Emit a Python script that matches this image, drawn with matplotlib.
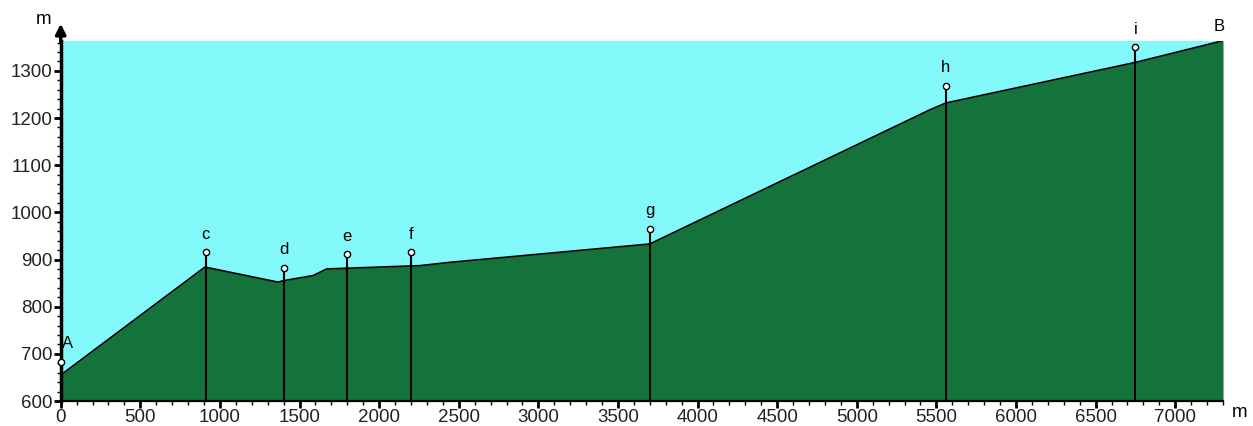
import matplotlib
matplotlib.use("Agg")
import matplotlib.pyplot as plt
from matplotlib.ticker import MultipleLocator

plt.rcParams["font.family"] = ["Liberation Sans", "DejaVu Sans"]

# ground profile (distance m, altitude m)
profile_x = [0, 906, 1366, 1397, 1586, 1670, 2004, 2255, 2444, 3700, 5456, 5560, 6750, 7300]
profile_y = [655, 884, 852, 855, 866, 880, 884, 887, 894, 933, 1217, 1232, 1318, 1364]

# labelled points
point_names = ["A", "c", "d", "e", "f", "g", "h", "i"]
point_x = [0, 910, 1400, 1800, 2200, 3700, 5560, 6750]
point_y = [683, 915, 882, 911, 915, 965, 1268, 1350]

end_name = "B"

sky = "#82f8fb"
ground = "#14733a"

fig = plt.figure(figsize=(12.53, 4.26), dpi=100)
ax = fig.add_axes([60.7 / 1253, 25 / 426, 1162.3 / 1253, 360.3 / 426])
ax.set_facecolor(sky)
ax.set_xlim(0, 7300)
ax.set_ylim(600, 1364)

ax.fill_between(profile_x, 600, profile_y, color=ground, lw=0, zorder=1)
ax.plot(profile_x, profile_y, color="black", lw=1.2, zorder=2)

for name, x, y in zip(point_names, point_x, point_y):
    if x > 0:
        ax.plot([x, x], [600, y], color="black", lw=1.5, zorder=3)
    ax.plot(x, y, "o", ms=4.5, mfc="white", mec="black", mew=1.0,
            zorder=4, clip_on=False)
    dx = 5 if x == 0 else 0
    ax.annotate(name, (x, y), xytext=(dx, 13), textcoords="offset points",
                ha="center", va="center", fontsize=12, zorder=5)

ax.annotate(end_name, (profile_x[-1], profile_y[-1]), xytext=(-3, 10),
            textcoords="offset points", ha="center", va="center",
            fontsize=12, annotation_clip=False)

ax.spines["top"].set_visible(False)
ax.spines["right"].set_visible(False)
ax.spines["left"].set_linewidth(2.5)
ax.spines["bottom"].set_linewidth(1.6)

ax.xaxis.set_major_locator(MultipleLocator(500))
ax.xaxis.set_minor_locator(MultipleLocator(100))
ax.yaxis.set_major_locator(MultipleLocator(100))
ax.yaxis.set_minor_locator(MultipleLocator(20))
ax.set_yticks(range(600, 1301, 100))
ax.tick_params(axis="both", which="major", length=5, width=2, labelsize=13.5,
               pad=1, labelcolor="#222222")
ax.tick_params(axis="both", which="minor", length=3, width=1)

# arrow on top of the altitude axis
ax.annotate("", xy=(0, 1.055), xytext=(0, 0.99), xycoords="axes fraction",
            arrowprops=dict(arrowstyle="-|>,head_length=0.6,head_width=0.3",
                            color="black", lw=2.5), annotation_clip=False)

ax.text(-0.0144, 1.06, "m", transform=ax.transAxes, ha="center", va="center",
        fontsize=13.5)
ax.text(1.0146, -0.033, "m", transform=ax.transAxes, ha="center", va="center",
        fontsize=13.5)

fig.savefig("out.png", dpi=100)
